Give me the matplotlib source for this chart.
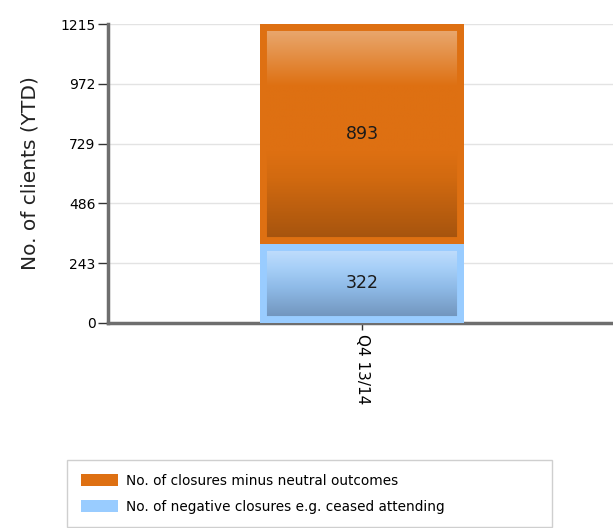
import numpy as np
import matplotlib
matplotlib.use("Agg")
import matplotlib.pyplot as plt
from matplotlib.colors import LinearSegmentedColormap
from matplotlib.patches import Patch

# Data
categories = ["Q4 13/14"]
closures_minus_neutral = [893]
negative_closures = [322]
y_ticks = [0, 243, 486, 729, 972, 1215]
series_labels = [
    "No. of closures minus neutral outcomes",
    "No. of negative closures e.g. ceased attending",
]

# Styling
orange_edge = "#DE7012"
blue_edge = "#99CCFF"
orange_grad = LinearSegmentedColormap.from_list(
    "orange_grad",
    [(0.0, "#A2520E"), (0.30, "#D26A10"), (0.42, "#DE7012"),
     (0.72, "#DE7012"), (1.0, "#EAAD78")])
blue_grad = LinearSegmentedColormap.from_list(
    "blue_grad",
    [(0.0, "#6B8DB4"), (0.45, "#8FBBE8"), (0.70, "#A8D0F8"),
     (1.0, "#C9E2FD")])

plt.rcParams["font.family"] = ["DejaVu Sans"]

fig = plt.figure(figsize=(6.13, 5.28), dpi=100)
ax = fig.add_axes([108 / 613, 1 - 323 / 528, 508 / 613, 299 / 528])

x = np.arange(len(categories))
bar_w = 0.4
low = ax.bar(x, negative_closures, width=bar_w, zorder=3,
             facecolor="none", edgecolor=blue_edge)
high = ax.bar(x, closures_minus_neutral, bottom=negative_closures,
              width=bar_w, zorder=3, facecolor="none", edgecolor=orange_edge)

grad = np.linspace(0, 1, 256).reshape(-1, 1)
for container, cmap in ((low, blue_grad), (high, orange_grad)):
    for p in container.patches:
        x0, y0 = p.get_x(), p.get_y()
        x1, y1 = x0 + p.get_width(), y0 + p.get_height()
        im = ax.imshow(grad, cmap=cmap, origin="lower", aspect="auto",
                       extent=(x0, x1, y0, y1), zorder=2,
                       interpolation="bilinear")
        im.set_clip_path(p)
        # thick edge clipped to the bar so only the inner half shows
        p.set_linewidth(10)
        p.set_clip_path(p)

for container, vals in ((high, closures_minus_neutral),
                        (low, negative_closures)):
    ax.bar_label(container, labels=[str(v) for v in vals],
                 label_type="center", fontsize=12.5, color="#1a1a1a",
                 zorder=5)

ax.set_xlim(-0.5, 0.5)
ax.set_ylim(0, 1215)
ax.set_yticks(y_ticks)
ax.set_yticklabels([str(v) for v in y_ticks], fontsize=10)
ax.set_xticks(x)
ax.set_xticklabels(categories, rotation=270, fontsize=11)
ax.tick_params(axis="y", length=7, width=1, color="#333333", pad=2)
ax.tick_params(axis="x", length=5, width=1, color="#333333", pad=3)

ax.set_axisbelow(True)
ax.yaxis.grid(True, color="#e3e3e3", linewidth=1)
for side in ("top", "right"):
    ax.spines[side].set_visible(False)
for side in ("left", "bottom"):
    ax.spines[side].set_color("#6e6e6e")
    ax.spines[side].set_linewidth(2.5)

ax.set_ylabel("No. of clients (YTD)", fontsize=14.5, labelpad=15,
              color="#222222")

handles = [Patch(facecolor=orange_edge, edgecolor="none"),
           Patch(facecolor=blue_edge, edgecolor="none")]
leg = fig.legend(handles, series_labels, loc="upper left",
                 bbox_to_anchor=(67 / 613, 1 - 460 / 528, 485 / 613, 0.0),
                 mode="expand", fontsize=9.8, frameon=True, fancybox=False,
                 edgecolor="#cfcfcf", framealpha=1, borderpad=1.0,
                 handlelength=2.75, handleheight=0.95, handletextpad=0.6,
                 labelspacing=0.9, borderaxespad=0)
leg.get_frame().set_linewidth(1)

fig.savefig("out.png", dpi=100)
